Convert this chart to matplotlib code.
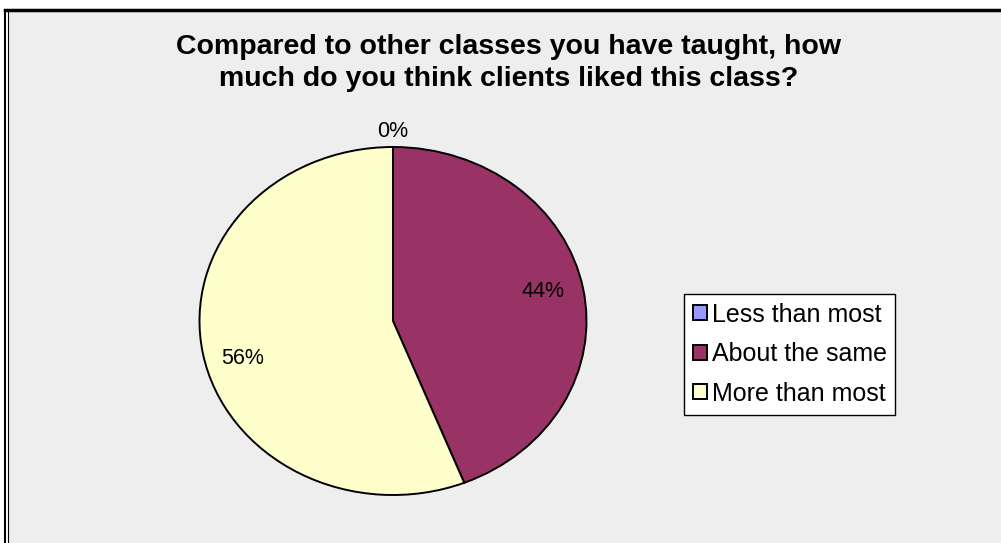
import matplotlib.pyplot as plt
from matplotlib.patches import Rectangle
from matplotlib.lines import Line2D

plt.rcParams['font.family'] = ['Liberation Sans', 'DejaVu Sans']

# data
categories = ['Less than most', 'About the same', 'More than most']
shares = [0, 44, 56]
colors = ['#9999FF', '#993366', '#FFFFCC']
title = 'Compared to other classes you have taught, how\nmuch do you think clients liked this class?'

W, H = 1001, 543
fig = plt.figure(figsize=(W / 100, H / 100), dpi=100)
fig.patch.set_facecolor('white')

# chart area background + Excel style frame
fig.patches.append(Rectangle((8 / W, 0), 1, (H - 10) / H, transform=fig.transFigure,
                             facecolor='#EEEEEE', edgecolor='none', zorder=-5))
fig.lines.append(Line2D([5 / W, 1], [(H - 9.5) / H] * 2, transform=fig.transFigure,
                        color='black', lw=2.5, zorder=-4))
fig.lines.append(Line2D([5 / W] * 2, [0, (H - 9.5) / H], transform=fig.transFigure,
                        color='black', lw=1.5, zorder=-4))
fig.lines.append(Line2D([7.8 / W] * 2, [0, (H - 9.5) / H], transform=fig.transFigure,
                        color='black', lw=0.8, zorder=-4))

fig.text(509 / W, (H - 63) / H, title, ha='center', va='center', fontsize=20.5,
         fontweight='bold', linespacing=1.28)

# pie axes (slightly stretched horizontally like the original)
cx, cy, rx, ry = 393, 321, 193.5, 174
ax = fig.add_axes([(cx - rx) / W, (H - cy - ry) / H, 2 * rx / W, 2 * ry / H])
ax.patch.set_visible(False)
wedges, texts, autotexts = ax.pie(shares, colors=colors, startangle=90, counterclock=False,
                                  autopct='%1.0f%%', pctdistance=0.79,
                                  wedgeprops=dict(edgecolor='black', linewidth=1.4),
                                  textprops=dict(fontsize=15.5))
ax.set_aspect('auto')
ax.set_xlim(-1, 1)
ax.set_ylim(-1, 1)
ax.axis('off')
for v, t in zip(shares, autotexts):
    x, y = t.get_position()
    if v == 0:
        t.set_position((x * 1.09 / 0.79, y * 1.09 / 0.79))
    elif x < 0:
        t.set_position((x, y - 0.07))
    else:
        t.set_position((x, y + 0.02))

leg = fig.legend(wedges, categories, loc='upper left',
                 bbox_to_anchor=(684 / W, (H - 294) / H), fontsize=18,
                 frameon=True, fancybox=False, edgecolor='black', framealpha=1,
                 handlelength=0.55, handleheight=0.55, handletextpad=0.2,
                 labelspacing=0.62, borderpad=0.35, borderaxespad=0)
leg.get_frame().set_linewidth(1.0)

fig.savefig('out.png', dpi=100)
